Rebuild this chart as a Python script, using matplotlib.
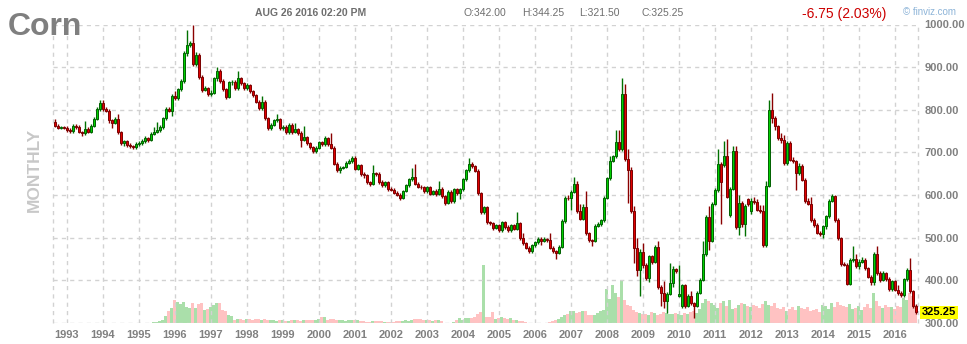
import numpy as np
import pandas as pd
import matplotlib
matplotlib.use("Agg")
import matplotlib.pyplot as plt

plt.rcParams['font.family'] = ['Liberation Sans', 'DejaVu Sans']

# monthly corn candles, Sep 1992 .. Aug 2016
first_open = 772
closes = [
    763, 757, 760, 757,                                              # 1992
    753, 750, 763, 760, 748, 745, 756, 749, 763, 779, 802, 815,      # 1993
    802, 798, 775, 770, 778, 747, 721, 726, 717, 715, 712, 720,      # 1994
    722, 727, 733, 730, 743, 749, 753, 760, 780, 802, 798, 833,      # 1995
    827, 848, 867, 932, 953, 957, 908, 928, 877, 847, 850, 837,      # 1996
    840, 874, 891, 868, 848, 831, 864, 866, 850, 874, 862, 850,      # 1997
    858, 843, 835, 819, 804, 819, 780, 757, 765, 775, 778, 757,      # 1998
    760, 747, 765, 748, 755, 746, 730, 736, 722, 712, 703, 711,      # 1999
    724, 719, 734, 719, 711, 674, 658, 664, 666, 676, 680, 688,      # 2000
    662, 670, 649, 646, 630, 626, 651, 649, 631, 623, 630, 614,      # 2001
    612, 606, 601, 593, 610, 623, 637, 643, 626, 620, 618, 610,      # 2002
    618, 602, 610, 602, 615, 597, 581, 608, 585, 614, 604, 614,      # 2003
    637, 658, 674, 668, 657, 605, 560, 571, 536, 534, 523, 529,      # 2004
    517, 536, 525, 517, 529, 521, 535, 499, 488, 477, 468, 483,      # 2005
    490, 498, 492, 498, 494, 477, 469, 465, 478, 539, 594, 592,      # 2006
    608, 627, 563, 545, 571, 510, 494, 492, 528, 532, 541, 594,      # 2007
    639, 681, 692, 725, 708, 836, 685, 659, 563, 476, 424, 466,      # 2008
    435, 406, 457, 443, 479, 385, 371, 351, 369, 393, 427, 422,      # 2009
    367, 388, 340, 364, 347, 341, 371, 402, 461, 549, 492, 580,      # 2010
    612, 673, 631, 691, 596, 615, 704, 526, 582, 531, 574, 578,      # 2011
    585, 583, 566, 562, 484, 622, 800, 780, 761, 734, 730, 675,      # 2012
    722, 683, 679, 652, 669, 636, 585, 580, 542, 530, 512, 509,      # 2013
    527, 550, 587, 597, 542, 499, 439, 437, 392, 448, 451, 433,      # 2014
    444, 448, 429, 409, 395, 462, 417, 402, 417, 403, 380, 398,      # 2015
    378, 370, 366, 403, 425, 374, 341, 325.25,                       # 2016
]
# months that open away from the previous close (contract roll gaps)
gap_opens = {'2010-01': 364, '2010-02': 340, '2011-04': 671, '2011-06': 553,
             '2011-12': 590, '2012-01': 563}
highs = [
    778, 766, 763, 762,
    761, 757, 766, 766, 764, 750, 774, 760, 766, 782, 806, 822,
    823, 807, 801, 779, 782, 790, 750, 729, 729, 721, 718, 725,
    726, 731, 738, 737, 748, 760, 771, 765, 784, 806, 806, 837,
    845, 852, 872, 938, 986, 962, 998, 935, 932, 881, 856, 853,
    846, 878, 901, 895, 872, 852, 868, 871, 869, 891, 877, 866,
    862, 861, 847, 838, 822, 832, 823, 784, 768, 778, 790, 781,
    765, 764, 768, 768, 770, 758, 750, 763, 739, 725, 715, 714,
    727, 727, 738, 737, 746, 714, 678, 668, 669, 679, 684, 692,
    692, 674, 673, 653, 650, 634, 670, 655, 653, 635, 633, 633,
    618, 616, 609, 605, 613, 626, 640, 664, 672, 630, 624, 622,
    621, 621, 613, 614, 633, 618, 601, 611, 611, 617, 617, 617,
    640, 662, 688, 678, 671, 660, 608, 575, 575, 540, 537, 532,
    532, 539, 539, 529, 532, 532, 560, 538, 510, 491, 480, 486,
    493, 501, 501, 501, 500, 510, 480, 472, 482, 543, 598, 600,
    612, 643, 632, 578, 578, 609, 514, 497, 531, 536, 545, 598,
    642, 692, 695, 752, 752, 875, 860, 708, 665, 575, 500, 473,
    488, 440, 460, 460, 483, 492, 388, 398, 373, 440, 433, 430,
    435, 392, 392, 367, 375, 350, 374, 405, 492, 553, 575, 584,
    616, 708, 678, 727, 731, 619, 714, 716, 601, 587, 578, 594,
    593, 596, 590, 576, 577, 632, 823, 839, 786, 764, 746, 740,
    727, 727, 690, 683, 675, 673, 640, 593, 596, 546, 535, 516,
    530, 554, 590, 603, 600, 546, 502, 443, 441, 452, 480, 461,
    450, 455, 452, 432, 412, 466, 480, 421, 421, 420, 407, 402,
    401, 390, 374, 406, 428, 452, 377, 344.25,
]
lows = [
    760, 754, 755, 754,
    749, 746, 746, 755, 745, 739, 742, 745, 746, 760, 776, 798,
    798, 794, 770, 758, 766, 744, 717, 716, 713, 711, 708, 709,
    716, 718, 723, 725, 727, 740, 745, 749, 756, 776, 794, 786,
    822, 824, 843, 862, 926, 948, 903, 903, 872, 842, 843, 833,
    833, 837, 868, 863, 844, 826, 828, 858, 846, 847, 858, 846,
    846, 840, 831, 815, 800, 800, 776, 752, 752, 761, 771, 753,
    752, 744, 744, 744, 745, 742, 712, 727, 718, 708, 699, 699,
    707, 715, 715, 715, 707, 670, 654, 652, 660, 663, 672, 676,
    658, 658, 645, 641, 626, 621, 623, 645, 627, 619, 619, 610,
    609, 603, 598, 589, 590, 607, 620, 634, 623, 616, 614, 606,
    606, 599, 599, 598, 599, 593, 577, 578, 581, 581, 600, 590,
    610, 634, 655, 664, 653, 601, 556, 556, 532, 530, 519, 520,
    514, 514, 521, 513, 513, 517, 517, 495, 484, 473, 464, 465,
    479, 486, 484, 489, 491, 473, 465, 449, 462, 475, 535, 588,
    565, 604, 559, 541, 541, 506, 490, 480, 489, 524, 528, 537,
    590, 636, 678, 688, 704, 704, 680, 582, 558, 441, 411, 364,
    430, 400, 396, 438, 440, 380, 339, 335, 324, 366, 385, 417,
    360, 336, 336, 337, 343, 312, 337, 367, 398, 457, 472, 489,
    576, 608, 531, 667, 592, 549, 611, 520, 507, 526, 503, 574,
    555, 578, 562, 558, 478, 478, 618, 770, 752, 728, 722, 670,
    671, 680, 675, 612, 648, 632, 581, 576, 538, 526, 508, 505,
    499, 520, 546, 583, 538, 495, 434, 433, 388, 388, 443, 428,
    426, 440, 425, 405, 390, 390, 413, 396, 398, 399, 376, 376,
    374, 366, 362, 362, 398, 370, 336, 321.5,
]
volume = [
    0, 0, 0, 0,
    0, 0, 0, 0, 0, 0, 0, 0, 0, 0, 0, 0,
    0, 0, 0, 0, 0, 0, 0, 0, 0, 0, 0, 0,
    0, 0, 0, 0, 0, 1, 1, 2, 3, 7, 12, 15,
    23, 21, 19, 21, 16, 15, 20, 15, 19, 20, 13, 14,
    16, 18, 20, 20, 13, 12, 8, 7, 3, 4, 4, 3,
    4, 4, 3, 4, 4, 3, 4, 3, 3, 3, 2, 3,
    3, 2, 2, 3, 3, 3, 2, 3, 3, 3, 3, 3,
    4, 6, 6, 3, 4, 4, 3, 3, 3, 2, 3, 3,
    3, 3, 2, 2, 1, 1, 2, 2, 2, 2, 1, 1,
    1, 1, 2, 2, 2, 3, 2, 3, 4, 4, 4, 3,
    3, 3, 2, 3, 3, 2, 0, 0, 0, 1, 3, 5,
    3, 5, 5, 5, 6, 9, 11, 58, 6, 6, 11, 4,
    5, 6, 5, 4, 5, 3, 3, 2, 2, 1, 0, 0,
    0, 0, 0, 0, 0, 1, 2, 3, 4, 6, 8, 9,
    12, 12, 10, 11, 12, 12, 8, 8, 8, 10, 12, 13,
    34, 24, 38, 30, 26, 43, 23, 18, 17, 13, 11, 10,
    9, 9, 8, 11, 10, 8, 9, 11, 10, 9, 9, 10,
    9, 8, 10, 9, 11, 12, 10, 14, 20, 24, 22, 20,
    18, 15, 20, 22, 17, 23, 14, 15, 18, 20, 19, 17,
    16, 18, 17, 15, 19, 22, 18, 17, 20, 15, 14, 16,
    12, 14, 16, 13, 17, 15, 14, 16, 12, 13, 14, 11,
    18, 17, 14, 20, 16, 21, 18, 17, 16, 19, 14, 15,
    17, 13, 16, 19, 15, 30, 22, 17, 15, 18, 16, 16,
    14, 17, 16, 25, 23, 30, 27, 18,
]
price_ticks = [300, 400, 500, 600, 700, 800, 900, 1000]

months = pd.date_range('1992-09-01', periods=len(closes), freq='MS')
x = np.arange(len(closes))
opens = [first_open] + closes[:-1]
for m, v in gap_opens.items():
    opens[months.get_loc(pd.Timestamp(m + '-01'))] = v
c = np.array(closes, dtype=float)
o = np.array(opens, dtype=float)
up = c >= o

W, H = 967, 344
fig = plt.figure(figsize=(W / 100, H / 100), dpi=100)
rect = [53.3 / W, 1 - 323 / H, (917.7 - 53.3) / W, (323 - 24.5) / H]
xlim = (-0.47, len(closes) - 0.33)

# volume behind the candles
axv = fig.add_axes(rect)
axv.bar(x, volume, width=1.0, color=np.where(up, '#aadfaa', '#ffc2c2'), linewidth=0)
axv.set_xlim(*xlim)
axv.set_ylim(0, 298.5)
axv.axis('off')

ax = fig.add_axes(rect, facecolor='none')
ax.vlines(x, lows, highs, colors=np.where(up, '#007000', '#8a0000'), linewidth=1.0, zorder=3)
ax.bar(x, np.abs(c - o), bottom=np.minimum(o, c), width=0.7,
       color=np.where(up, '#00d000', '#e00000'),
       edgecolor=np.where(up, '#006000', '#7a0000'), linewidth=0.7, zorder=4)

ax.set_xlim(*xlim)
ax.set_ylim(300, 1000)
for s in ax.spines.values():
    s.set_visible(False)

jan = np.where(months.month == 1)[0]
ax.set_xticks(jan, [str(months[i].year) for i in jan])
ax.set_yticks(price_ticks, [f'{v:.2f}' for v in price_ticks])
ax.yaxis.tick_right()
ax.tick_params(length=0, labelcolor='#808080', labelsize=8)
ax.tick_params(axis='x', pad=5)
ax.tick_params(axis='y', pad=5)
for lab in ax.get_xticklabels() + ax.get_yticklabels():
    lab.set_fontweight('bold')

ax.grid(True, color='#d2d2d2', linestyle=(0, (3, 3)), linewidth=1)
ax.set_axisbelow(True)
for xe in xlim:
    ax.axvline(xe, color='#d2d2d2', linestyle=(0, (3, 3)), linewidth=1, clip_on=False, zorder=0)

ax.text(1.005, closes[-1], f'{closes[-1]:.2f}', transform=ax.get_yaxis_transform(),
        ha='left', va='center', fontsize=8, fontweight='bold', color='black',
        bbox=dict(boxstyle='square,pad=0.15', fc='#ffff00', ec='none'), zorder=10)

# header texts
fig.text(8 / W, 1 - 35 / H, 'Corn', fontsize=23, fontweight='bold', color='#7f7f7f', va='baseline')
fig.text(34 / W, 1 - 170 / H, 'MONTHLY', rotation=90, fontsize=12.5, fontweight='bold',
         color='#c8c8c8', ha='center', va='center')
fig.text(255 / W, 1 - 13 / H, 'AUG 26 2016 02:20 PM', fontsize=7.5, fontweight='bold',
         color='#6e6e6e', va='center')
for xp, t in [(463, 'O:342.00'), (522, 'H:344.25'), (579, 'L:321.50'), (641, 'C:325.25')]:
    fig.text(xp / W, 1 - 13 / H, t, fontsize=7.5, color='#6e6e6e', va='center')
fig.text(802 / W, 1 - 14 / H, '-6.75 (2.03%)', fontsize=10, color='#cc0000', va='center')
fig.text(903 / W, 1 - 12 / H, '\u00a9 finviz.com', fontsize=7, color='#8db4d8', va='center')

fig.savefig('out.png', dpi=100)
